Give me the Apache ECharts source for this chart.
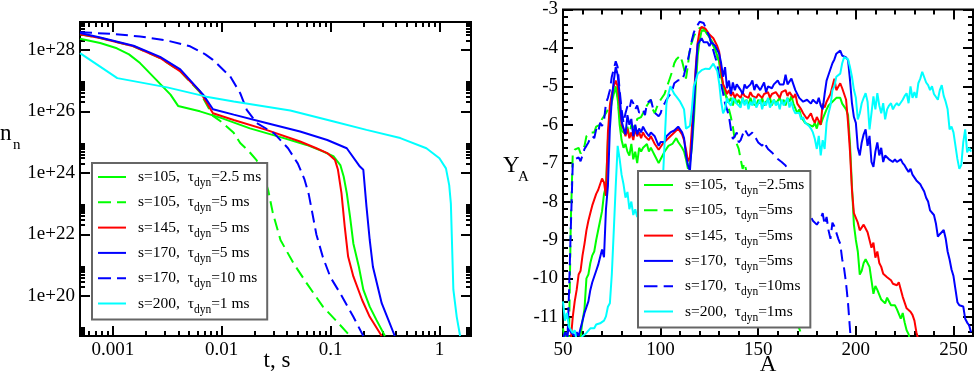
<!DOCTYPE html>
<html><head><meta charset="utf-8">
<script src="https://cdn.jsdelivr.net/npm/echarts@6/dist/echarts.min.js"></script>
<style>html,body{margin:0;padding:0;background:#fff}#c{width:976px;height:376px}</style>
</head><body><div id="c"></div><script>
// ---------------- DATA ----------------
const leftS   = ['105','105','145','170','170','200'];
const leftTau = ['2.5 ms','5 ms','5 ms','5 ms','10 ms','1 ms'];
const rightS   = ['105','105','145','170','170','200'];
const rightTau = ['2.5ms','5ms','5ms','5ms','10ms','1ms'];

const xTickExpLeft = [-3,-2,-1,0];
const xTickLabelsLeft = ['0.001','0.01','0.1','1'];
const yTickExpLeft = [20,22,24,26,28];
const yTickLabelsLeft = ['1e+20','1e+22','1e+24','1e+26','1e+28'];
const xRangeLeft = [0.0005, 1.95];
const yRangeLeft = [5e18, 8e28];
const xRangeRight = [50, 260];
const yRangeRight = [-11.5, -3];

const t_s105_2p5 = [0.0005,0.000766,0.00109,0.00141,0.00178,0.00251,0.00339,0.00398,0.00631,0.01,0.0182,0.0372,0.0603,0.0851,0.107,0.123,0.132,0.141,0.151,0.162,0.182,0.2,0.229,0.263,0.316];
const n_s105_2p5 = [2.3e28,1.66e28,1.12e28,7.1e27,3.7e27,1.05e27,3.5e26,1.5e26,1.0e26,6.0e25,2.8e25,1.35e25,8.1e24,5.0e24,3.4e24,1.8e24,7.6e23,2.2e23,3.8e22,5.1e21,8.9e20,1.6e20,4.5e19,1.7e19,5e18];
const t_s105_5 = [0.0005,0.000766,0.00155,0.00272,0.00417,0.0063,0.00832,0.01,0.0129,0.0148,0.0178,0.0209,0.024,0.0269,0.0295,0.0347,0.0457,0.0603,0.0851,0.115,0.151];
const n_s105_5 = [3.2e28,2.4e28,1.3e28,5.4e27,2.0e27,4.2e26,7.1e25,4.5e25,2.0e25,9.3e24,5.0e24,2.6e24,1.0e24,2.5e23,5.0e22,6.6e21,1.15e21,2.6e20,4.5e19,1.45e19,5e18];
const t_s145_5 = [0.0005,0.000766,0.00155,0.00272,0.00417,0.0063,0.00832,0.0129,0.0257,0.0525,0.0741,0.0933,0.11,0.117,0.126,0.135,0.145,0.162,0.195,0.229,0.295];
const n_s145_5 = [3.2e28,2.4e28,1.3e28,5.4e27,2.0e27,4.5e26,8.7e25,5.2e25,2.5e25,1.05e25,6.3e24,4.4e24,2.6e24,1.26e24,2.2e23,1.8e22,1.9e21,4.3e20,7.4e19,2.1e19,5e18];
const t_s170_5 = [0.0005,0.000766,0.00155,0.00272,0.00417,0.00676,0.00832,0.0129,0.0257,0.0525,0.0933,0.141,0.186,0.2,0.214,0.229,0.245,0.295,0.339,0.389];
const n_s170_5 = [3.5e28,2.5e28,1.35e28,5.9e27,2.3e27,3.5e26,1.17e26,7.8e25,4.2e25,2.2e25,1.17e25,6.3e24,1.6e24,1.26e24,7.9e22,6.6e21,8.9e20,5.8e19,1.7e19,5e18];
const t_s170_10 = [0.0005,0.001,0.00178,0.00316,0.00513,0.00708,0.00832,0.012,0.0148,0.017,0.0209,0.0302,0.0407,0.0501,0.0575,0.0631,0.0676,0.0741,0.0851,0.1,0.123,0.162,0.2];
const n_s170_10 = [3.7e28,3.3e28,2.7e28,2.0e28,1.3e28,7.1e27,4.7e27,1.35e27,3.9e26,1.12e26,4.2e25,1.95e25,6.3e24,2.0e24,6.3e23,2.0e23,5.6e22,1.0e22,1.8e21,4.0e20,1.2e20,2.1e19,5e18];
const t_s200_1 = [0.0005,0.0011,0.00316,0.00724,0.0129,0.0427,0.107,0.214,0.437,0.759,1.0,1.148,1.23,1.274,1.297,1.343,1.442,1.549];
const n_s200_1 = [7.8e27,1.2e27,6.0e26,3.0e26,2.1e26,1.07e26,4.7e25,2.5e25,1.35e25,6.3e24,3.0e24,1.4e24,4.0e23,1.0e23,1.1e22,1.6e20,2.1e19,5e18];

const massA = [50,51,52,53,54,55,56,57,58,59,60,61,62,63,64,65,66,67,68,69,70,71,72,73,74,75,76,77,78,79,80,81,82,83,84,85,86,87,88,89,90,91,92,93,94,95,96,97,98,99,100,101,102,103,104,105,106,107,108,109,110,111,112,113,114,115,116,117,118,119,120,121,122,123,124,125,126,127,128,129,130,131,132,133,134,135,136,137,138,139,140,141,142,143,144,145,146,147,148,149,150,151,152,153,154,155,156,157,158,159,160,161,162,163,164,165,166,167,168,169,170,171,172,173,174,175,176,177,178,179,180,181,182,183,184,185,186,187,188,189,190,191,192,193,194,195,196,197,198,199,200,201,202,203,204,205,206,207,208,209,210,211,212,213,214,215,216,217,218,219,220,221,222,223,224,225,226,227,228,229,230,231,232,233,234,235,236,237,238,239,240,241,242,243,244,245,246,247,248,249,250,251,252,253,254,255,256,257,258,259];

const yA_s105_2p5 = [-11.3,-11.6,-11.4,-12,-12,-12,-12,-12,-11.8,-11.5,
-11.1,-10.8,-10.0,-9.9,-9.6,-9.4,-9.3,-9.0,-9.0,-8.5,
-8.25,-7.8,-7.6,-6.4,-5.7,-5.4,-5.2,-5.0,-5.3,-6.0,
-6.4,-6.6,-6.5,-6.7,-6.8,-6.5,-6.9,-6.7,-7.0,-6.6,
-6.7,-6.6,-6.6,-6.5,-6.7,-6.6,-6.7,-6.8,-6.8,-7.0,
-6.9,-6.8,-6.7,-6.65,-6.55,-6.6,-6.5,-6.45,-6.35,-6.45,
-6.45,-6.6,-6.7,-6.9,-7.15,-7.0,-6.6,-5.9,-5.0,-4.2,
-3.8,-3.55,-3.5,-3.55,-3.65,-3.7,-3.8,-3.9,-4.05,-4.2,
-4.35,-4.7,-5.0,-5.2,-5.3,-5.4,-5.3,-5.5,-5.3,-5.45,
-5.35,-5.5,-5.3,-5.45,-5.35,-5.5,-5.3,-5.45,-5.4,-5.5,
-5.35,-5.45,-5.3,-5.5,-5.4,-5.45,-5.3,-5.5,-5.35,-5.45,
-5.4,-5.3,-5.45,-5.35,-5.5,-5.3,-5.4,-5.25,-5.45,-5.5,
-5.7,-5.6,-5.8,-5.85,-5.95,-5.9,-6.0,-5.95,-6.05,-5.95,
-6.1,-5.9,-6.0,-5.85,-5.9,-5.6,-5.5,-5.45,-5.4,-5.35,
-5.3,-5.3,-5.3,-5.45,-5.5,-5.6,-5.75,-6.5,-7.6,-8.6,
-9.0,-9.3,-9.9,-9.8,-9.6,-9.5,-9.5,-9.7,-10.05,-10.4,
-10.2,-10.3,-10.3,-10.55,-10.6,-10.65,-10.5,-10.6,-10.7,-10.75,
-10.7,-10.8,-10.85,-11.05,-10.9,-11.15,-11.35,-11.45,-11.7,-12];

const yA_s105_5 = [null,null,null,-11.8,-8.5,-6.75,-6.65,-6.7,-6.6,-6.75,
-6.8,-6.55,-6.3,-6.35,-6.2,-6.15,-6.2,-6.05,-6.1,-6.0,
-5.85,-5.8,-5.7,-5.6,-5.5,-5.3,-5.15,-5.05,-5.3,-5.8,
-6.15,-6.1,-6.25,-6.05,-6.3,-6.0,-5.95,-6.1,-5.85,-5.9,
-5.8,-5.7,-5.65,-5.5,-5.45,-5.35,-5.6,-5.7,-5.55,-5.45,
-5.35,-5.3,-5.2,-5.05,-4.9,-4.75,-4.6,-4.4,-4.3,-4.25,
-4.2,-4.35,-4.55,-4.8,-4.45,-4.0,-3.85,-3.7,-3.6,-3.55,
-3.48,-3.45,-3.5,-3.55,-3.65,-3.7,-3.85,-3.95,-4.05,-4.25,
-4.35,-4.75,-4.95,-5.15,-5.35,-5.6,-5.8,-6.05,-6.4,-6.5,
-6.63,-6.9,-7.15,-7.0,-7.23,-7.4,-7.6,-7.75,-7.9,-8.05,
-8.15,-8.4,-8.45,-8.7,-8.65,-8.95,-9.0,-9.25,-9.3,-9.55,
-9.65,-9.9,-9.95,-10.25,-10.3,-10.55,-10.6,-10.85,-10.9,-11.15,
-11.2,-11.3,-11.45,-11.6,-12];

const yA_s145_5 = [null,null,null,-12,-11.6,-11.0,-10.6,-10.3,-9.9,-9.8,
-9.4,-9.1,-8.75,-8.5,-8.3,-8.1,-7.95,-7.8,-7.7,-7.55,
-7.4,-7.5,-7.85,-6.2,-5.5,-5.2,-5.0,-4.85,-5.0,-5.45,
-6.0,-6.1,-6.3,-6.1,-6.35,-6.2,-6.4,-6.1,-6.3,-6.2,
-6.35,-6.2,-6.3,-6.25,-6.4,-6.3,-6.4,-6.5,-6.55,-6.65,
-6.6,-6.5,-6.55,-6.4,-6.35,-6.3,-6.3,-6.2,-6.2,-6.1,
-6.15,-6.25,-6.4,-6.65,-6.95,-6.85,-6.1,-5.3,-4.5,-3.85,
-3.55,-3.45,-3.45,-3.5,-3.55,-3.65,-3.7,-3.75,-3.8,-3.95,
-4.1,-4.6,-4.95,-5.05,-5.2,-5.1,-5.25,-5.15,-5.3,-5.2,
-5.2,-5.3,-5.15,-5.25,-5.2,-5.3,-5.15,-5.25,-5.2,-5.3,
-5.2,-5.15,-5.3,-5.2,-5.25,-5.15,-5.3,-5.2,-5.25,-5.15,
-5.2,-5.3,-5.15,-5.2,-5.1,-5.25,-5.15,-5.2,-5.3,-5.2,
-5.45,-5.5,-5.6,-5.7,-5.75,-5.85,-5.8,-5.7,-5.85,-5.95,
-5.8,-5.9,-6.0,-5.45,-5.55,-5.4,-5.35,-5.2,-5.0,-4.8,
-5.1,-5.1,-4.92,-5.05,-5.2,-5.35,-5.95,-6.7,-7.7,-8.3,
-8.26,-8.55,-8.75,-8.7,-8.6,-8.7,-8.8,-8.75,-9.2,-9.07,
-9.46,-9.3,-9.6,-9.7,-9.88,-9.9,-9.97,-10.0,-10.05,-10.14,
-10.15,-10.18,-10.1,-10.05,-10.48,-10.45,-10.78,-10.8,-10.87,-10.95,
-11.1,-11.4,-11.6];

const yA_s170_5 = [-11.6,-11.4,-11.5,-11.3,-11.4,-11.45,-11.5,-11.4,-11.5,-11.3,
-11.1,-10.9,-10.75,-10.6,-10.3,-10.1,-10.15,-9.8,-9.65,-9.45,
-9.25,-9.45,-8.2,-7.6,-6.1,-5.35,-4.85,-4.5,-4.7,-5.2,
-5.9,-6.1,-6.25,-5.75,-6.0,-5.85,-6.3,-6.0,-6.25,-6.1,
-6.2,-6.05,-6.15,-6.2,-6.3,-6.2,-6.25,-6.3,-6.35,-6.55,
-6.45,-6.4,-6.45,-6.3,-6.3,-6.2,-6.25,-6.15,-6.1,-6.05,
-6.1,-6.2,-6.35,-6.8,-7.05,-7.2,-6.5,-5.6,-4.6,-3.9,
-3.85,-3.75,-3.85,-3.8,-3.85,-3.95,-3.85,-3.9,-3.95,-4.0,
-4.15,-4.4,-4.75,-4.5,-5.05,-4.85,-5.2,-4.9,-5.1,-4.95,
-4.92,-5.1,-5.2,-4.95,-5.05,-5.0,-4.95,-4.85,-5.1,-4.95,
-5.0,-5.1,-5.05,-4.9,-5.15,-5.0,-4.95,-5.05,-4.95,-5.0,
-4.85,-4.95,-5.0,-4.95,-4.7,-4.95,-4.9,-4.8,-4.85,-5.1,
-5.1,-5.3,-5.35,-5.4,-5.45,-5.35,-5.4,-5.45,-5.35,-5.4,
-5.45,-5.3,-5.5,-5.6,-5.2,-4.85,-4.7,-4.65,-4.4,-4.3,
-4.15,-4.2,-4.07,-4.2,-4.15,-4.25,-4.32,-4.84,-5.44,-5.8,
-5.95,-6.6,-6.8,-6.46,-6.25,-6.12,-6.55,-6.29,-6.97,-7.1,
-6.7,-6.46,-6.8,-6.6,-6.97,-6.8,-6.85,-6.9,-6.95,-6.97,
-6.9,-6.97,-6.95,-6.9,-7.0,-7.06,-7.15,-7.23,-7.15,-7.3,
-7.32,-7.45,-7.5,-7.55,-7.65,-7.74,-7.9,-8.0,-8.23,-8.25,
-8.35,-8.57,-8.91,-8.85,-8.83,-8.74,-8.96,-9.3,-9.51,-9.77,
-9.94,-10.28,-10.62,-10.7,-10.75,-10.73,-11.05,-11.15,-11.22,-11.4];

const yA_s170_10 = [null,null,-12,-10.5,-8.7,-7.0,-6.9,-6.95,-6.85,-6.95,
-6.97,-6.63,-6.55,-6.46,-6.35,-6.29,-6.35,-6.12,-6.2,-5.95,
-6.03,-5.9,-5.44,-5.3,-5.1,-4.75,-4.8,-4.35,-4.5,-5.09,
-5.6,-5.95,-5.7,-5.52,-5.6,-5.35,-5.44,-5.6,-5.5,-5.69,
-5.65,-5.6,-5.75,-5.44,-5.45,-5.35,-5.55,-5.69,-5.65,-5.78,
-5.7,-5.52,-5.45,-5.35,-5.27,-5.2,-5.1,-4.92,-4.95,-4.84,
-4.88,-4.84,-4.7,-4.5,-4.3,-4.07,-3.8,-3.6,-3.47,-3.4,
-3.32,-3.28,-3.35,-3.47,-3.6,-3.7,-3.9,-4.07,-4.25,-4.41,
-4.75,-4.95,-5.18,-5.44,-5.6,-5.78,-6.12,-6.37,-6.3,-6.2,
-6.46,-6.4,-6.37,-6.12,-6.2,-6.29,-6.25,-6.2,-6.3,-6.37,
-6.46,-6.5,-6.55,-6.45,-6.55,-6.63,-6.65,-6.72,-6.78,-6.8,
-6.89,-6.85,-6.97,-7.0,-7.06,-7.15,-7.23,-7.4,-7.6,-7.8,
-7.9,-8.0,-8.1,-8.2,-8.3,-8.35,-8.3,-8.4,-8.5,-8.55,
-8.6,-8.65,-8.45,-8.3,-8.6,-8.4,-8.75,-8.97,-8.55,-8.65,
-8.6,-8.97,-9.1,-9.5,-9.75,-10.14,-10.65,-11.33,-12];

const yA_s200_1 = [-10.6,-11.1,-10.9,-11.25,-11.2,-11.42,-11.35,-11.6,-11.7,-11.6,
-11.5,-11.45,-11.42,-11.45,-11.3,-11.25,-11.3,-11.2,-11.25,-11.17,
-11.2,-11.1,-10.99,-10.74,-10.65,-9.9,-8.77,-7.6,-6.55,-6.89,
-7.3,-7.55,-7.9,-7.75,-8.2,-8.0,-8.35,-8.2,-8.4,-8.3,
-8.5,-8.4,-8.6,-8.45,-8.6,-8.5,-8.55,-8.4,-8.5,-8.3,
-8.1,-7.6,-6.5,-5.44,-5.2,-5.0,-5.1,-5.2,-5.26,-5.3,
-5.4,-5.5,-5.6,-6.1,-6.12,-6.03,-5.6,-5.0,-4.85,-4.67,
-4.67,-4.58,-4.56,-4.54,-4.56,-4.55,-4.5,-4.41,-4.45,-4.6,
-4.92,-5.4,-5.7,-5.6,-5.3,-5.44,-5.5,-5.3,-5.27,-5.45,
-5.4,-5.55,-5.3,-5.5,-5.35,-5.6,-5.4,-5.5,-5.3,-5.55,
-5.45,-5.35,-5.6,-5.4,-5.5,-5.3,-5.55,-5.45,-5.35,-5.5,
-5.4,-5.6,-5.35,-5.5,-5.45,-5.3,-5.55,-5.4,-5.6,-5.7,
-5.75,-5.69,-5.86,-5.8,-5.95,-6.0,-6.03,-6.1,-6.2,-6.37,
-6.63,-6.29,-6.8,-6.4,-6.63,-5.95,-5.7,-5.5,-5.1,-5.0,
-4.75,-4.7,-4.67,-4.4,-4.24,-4.2,-4.3,-4.5,-4.75,-5.09,
-5.3,-5.86,-5.7,-5.44,-5.3,-5.18,-5.4,-6.12,-5.7,-5.26,
-5.6,-5.18,-5.5,-5.7,-5.44,-5.86,-5.6,-5.5,-5.44,-5.6,
-5.5,-5.44,-5.5,-5.45,-5.35,-5.25,-5.18,-5.44,-5.0,-5.3,
-5.15,-5.3,-4.92,-4.8,-4.62,-4.66,-4.9,-4.97,-5.1,-5.0,
-5.2,-5.15,-5.35,-5.1,-4.97,-5.25,-5.4,-5.6,-6.12,-6.05,
-6.2,-6.15,-6.89,-7.15,-7.05,-6.46,-6.12,-6.72,-6.6,-6.7];

// ---------------- CHART ----------------
const FONT = "'Liberation Serif','Times New Roman',serif";
const GREEN = '#00ff00', RED = '#ff0000', BLUE = '#0000ff', CYAN = '#00ffff';
const DASH = [12, 6];
const ICON_SOLID = 'path://M0,0H28V2H0Z';
const ICON_DASH = 'path://M0,0H13V2H0Z M19,0H28V2H19Z';

const leftSets = [
  {t: t_s105_2p5, n: n_s105_2p5, color: GREEN, dash: false},
  {t: t_s105_5,   n: n_s105_5,   color: GREEN, dash: true},
  {t: t_s145_5,   n: n_s145_5,   color: RED,   dash: false},
  {t: t_s170_5,   n: n_s170_5,   color: BLUE,  dash: false},
  {t: t_s170_10,  n: n_s170_10,  color: BLUE,  dash: true},
  {t: t_s200_1,   n: n_s200_1,   color: CYAN,  dash: false}
];
const rightSets = [
  {y: yA_s105_2p5, color: GREEN, dash: false},
  {y: yA_s105_5,   color: GREEN, dash: true},
  {y: yA_s145_5,   color: RED,   dash: false},
  {y: yA_s170_5,   color: BLUE,  dash: false},
  {y: yA_s170_10,  color: BLUE,  dash: true},
  {y: yA_s200_1,   color: CYAN,  dash: false}
];

const lg = Math.log10;
const xMinL = lg(xRangeLeft[0]), xMaxL = lg(xRangeLeft[1]);
const yMinL = lg(yRangeLeft[0]), yMaxL = lg(yRangeLeft[1]);

function logMinor(lo, hi, decadeStep) {
  const out = [];
  for (let d = Math.floor(lo) - 2; d <= Math.ceil(hi) + 1; d++) {
    if (decadeStep === 2 && ((d % 2) + 2) % 2 !== 0) continue;
    for (let k = 2; k <= 9; k++) {
      const v = lg(k) + d;
      if (v > lo && v < hi) out.push(v);
    }
  }
  return out;
}
const minorXL = logMinor(xMinL, xMaxL, 1);
const minorYL = logMinor(yMinL, yMaxL, 2);

const tickStyle = {color: '#000', width: 2};
const noLine = {show: false, onZero: false};
function isInt(v) { return Math.abs(v - Math.round(v)) < 1e-6; }
const labelBase = {fontFamily: FONT, fontSize: 19, color: '#000'};

function ax(extra) {
  return Object.assign({type: 'value', axisLine: noLine, splitLine: {show: false}}, extra);
}

const xAxes = [
  ax({gridIndex: 0, position: 'bottom', min: xMinL, max: xMaxL, splitNumber: 4,
   axisTick: {inside: true, length: 10, lineStyle: tickStyle},
   axisLabel: Object.assign({margin: 5, formatter: v => { if (!isInt(v)) return ''; const i = xTickExpLeft.indexOf(Math.round(v)); return i < 0 ? '' : xTickLabelsLeft[i]; }}, labelBase)}),
  ax({gridIndex: 0, position: 'top', min: xMinL, max: xMaxL, splitNumber: 4,
   axisTick: {inside: true, length: 10, lineStyle: tickStyle}, axisLabel: {show: false}}),
  ax({gridIndex: 0, position: 'bottom', min: xMinL, max: xMaxL,
   axisTick: {inside: true, length: 5, lineStyle: tickStyle, customValues: minorXL}, axisLabel: {show: false}}),
  ax({gridIndex: 0, position: 'top', min: xMinL, max: xMaxL,
   axisTick: {inside: true, length: 5, lineStyle: tickStyle, customValues: minorXL}, axisLabel: {show: false}}),
  ax({gridIndex: 1, position: 'bottom', min: xRangeRight[0], max: xRangeRight[1], interval: 50,
   axisTick: {inside: true, length: 10, lineStyle: tickStyle},
   minorTick: {show: true, splitNumber: 5, length: 5, lineStyle: tickStyle},
   axisLabel: Object.assign({margin: 5, formatter: v => (v % 50 === 0 ? String(v) : '')}, labelBase)}),
  ax({gridIndex: 1, position: 'top', min: xRangeRight[0], max: xRangeRight[1], interval: 50,
   axisTick: {inside: true, length: 10, lineStyle: tickStyle},
   minorTick: {show: true, splitNumber: 5, length: 5, lineStyle: tickStyle},
   axisLabel: {show: false}})
];
const yAxes = [
  ax({gridIndex: 0, position: 'left', min: yMinL, max: yMaxL, splitNumber: 5,
   axisTick: {inside: true, length: 10, lineStyle: tickStyle},
   axisLabel: Object.assign({margin: 5, formatter: v => { if (!isInt(v)) return ''; const i = yTickExpLeft.indexOf(Math.round(v)); return i < 0 ? '' : yTickLabelsLeft[i]; }}, labelBase)}),
  ax({gridIndex: 0, position: 'right', min: yMinL, max: yMaxL, splitNumber: 5,
   axisTick: {inside: true, length: 10, lineStyle: tickStyle}, axisLabel: {show: false}}),
  ax({gridIndex: 0, position: 'left', min: yMinL, max: yMaxL,
   axisTick: {inside: true, length: 5, lineStyle: tickStyle, customValues: minorYL}, axisLabel: {show: false}}),
  ax({gridIndex: 0, position: 'right', min: yMinL, max: yMaxL,
   axisTick: {inside: true, length: 5, lineStyle: tickStyle, customValues: minorYL}, axisLabel: {show: false}}),
  ax({gridIndex: 1, position: 'left', min: yRangeRight[0], max: yRangeRight[1], splitNumber: 9,
   axisTick: {inside: true, length: 10, lineStyle: tickStyle},
   minorTick: {show: true, splitNumber: 5, length: 5, lineStyle: tickStyle},
   axisLabel: Object.assign({margin: 5, formatter: v => (isInt(v) ? String(Math.round(v)) : '')}, labelBase)}),
  ax({gridIndex: 1, position: 'right', min: yRangeRight[0], max: yRangeRight[1], splitNumber: 9,
   axisTick: {inside: true, length: 10, lineStyle: tickStyle},
   minorTick: {show: true, splitNumber: 5, length: 5, lineStyle: tickStyle},
   axisLabel: {show: false}})
];

const series = [];
leftSets.forEach((s, i) => {
  series.push({
    name: 'L' + i, type: 'line', xAxisIndex: 0, yAxisIndex: 0, symbol: 'none', clip: true,
    lineStyle: {color: s.color, width: 2, type: s.dash ? DASH : 'solid'}, itemStyle: {color: s.color},
    data: s.t.map((t, j) => [lg(t), lg(s.n[j])])
  });
});
rightSets.forEach((s, i) => {
  series.push({
    name: 'R' + i, type: 'line', xAxisIndex: 4, yAxisIndex: 4, symbol: 'none', clip: true,
    lineStyle: {color: s.color, width: 2, type: s.dash ? DASH : 'solid'}, itemStyle: {color: s.color},
    data: s.y.map((y, j) => [massA[j], y])
  });
});

const legendRich = {
  p: {width: 7, fontSize: 15.5, fontFamily: FONT},
  a: {fontSize: 15.5, fontFamily: FONT, color: '#000', lineHeight: 24, verticalAlign: 'middle'},
  b: {fontSize: 11.5, fontFamily: FONT, color: '#000', verticalAlign: 'bottom'}
};
function legendOpt(prefix, left, top, sArr, tauArr, sets, iw) {
  return {
    orient: 'vertical', left: left, top: top, itemWidth: iw, itemHeight: 2, itemGap: 1.3,
    padding: [2, 6, 4, 6], backgroundColor: '#fff', borderColor: '#666', borderWidth: 2, borderRadius: 0,
    selectedMode: false, symbolKeepAspect: false,
    data: sArr.map((_, i) => ({name: prefix + i, icon: sets[i].dash ? ICON_DASH : ICON_SOLID, itemStyle: {color: sets[i].color}})),
    formatter: name => { const i = +name.slice(1); return '{p| }{a|s=' + sArr[i] + ',  τ}{b|dyn}{a|=' + tauArr[i] + '}'; },
    textStyle: {fontFamily: FONT, fontSize: 15.5, color: '#000', lineHeight: 24, rich: legendRich}
  };
}

const titleFont = (sz) => sz + "px 'Liberation Serif', serif";
const option = {
  backgroundColor: '#fff',
  animation: false,
  grid: [
    {left: 80, top: 22, width: 391, height: 314, show: true, borderColor: '#000', borderWidth: 2, backgroundColor: 'transparent'},
    {left: 563, top: 5, width: 412, height: 331, show: true, borderColor: '#000', borderWidth: 2, backgroundColor: 'transparent'}
  ],
  xAxis: xAxes,
  yAxis: yAxes,
  legend: [
    legendOpt('L', 92, 163, leftS, leftTau, leftSets, 28),
    legendOpt('R', 638, 171, rightS, rightTau, rightSets, 29)
  ],
  series: series,
  graphic: [
    {type: 'text', x: 277, y: 361, style: {text: 't, s', font: titleFont(23), fill: '#000', textAlign: 'center', textVerticalAlign: 'middle'}},
    {type: 'text', x: 768, y: 365, style: {text: 'A', font: titleFont(23), fill: '#000', textAlign: 'center', textVerticalAlign: 'middle'}},
    {type: 'text', x: 0, y: 134, style: {text: 'n', font: titleFont(23), fill: '#000', textAlign: 'left', textVerticalAlign: 'middle'}},
    {type: 'text', x: 13, y: 145.5, style: {text: 'n', font: titleFont(15), fill: '#000', textAlign: 'left', textVerticalAlign: 'middle'}},
    {type: 'text', x: 503, y: 166, style: {text: 'Y', font: titleFont(23), fill: '#000', textAlign: 'left', textVerticalAlign: 'middle'}},
    {type: 'text', x: 518, y: 177, style: {text: 'A', font: titleFont(15), fill: '#000', textAlign: 'left', textVerticalAlign: 'middle'}}
  ]
};

const chart = echarts.init(document.getElementById('c'), null, {renderer: 'canvas'});
chart.setOption(option);
</script></body></html>
